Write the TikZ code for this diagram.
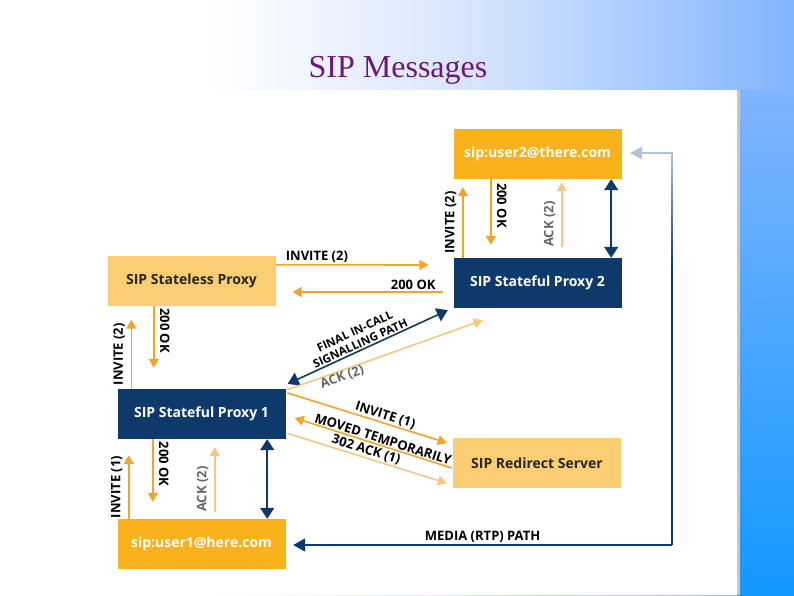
\documentclass[tikz,border=0pt]{standalone}
\usepackage{fontspec}
\setmainfont{Liberation Serif}
\newfontfamily\diagfont{Open Sans}
\usetikzlibrary{arrows.meta}
\usetikzlibrary{calc}

\definecolor{navy}{RGB}{14,58,107}
\definecolor{sipgold}{RGB}{250,178,28}
\definecolor{sippale}{RGB}{251,206,116}
\definecolor{sipline}{RGB}{244,164,40}
\definecolor{sipfaint}{RGB}{248,200,130}
\definecolor{sipmist}{RGB}{180,196,214}
\definecolor{titlepurple}{RGB}{112,22,122}
\definecolor{bgmid}{RGB}{214,228,252}
\definecolor{bgright}{RGB}{128,180,255}
\definecolor{stripbot}{RGB}{18,152,255}

\pgfdeclarehorizontalshading{bgshade}{100bp}{color(0bp)=(white); color(38bp)=(white); color(55bp)=(bgmid); color(75bp)=(bgright); color(100bp)=(bgright)}

\begin{document}
\begin{tikzpicture}[x=1pt,y=-1pt,
  box/.style={minimum width=168pt,minimum height=50pt,inner sep=0pt,font=\diagfont\bfseries\fontsize{14}{16}\selectfont},
  darkbox/.style={box,fill=navy,text=white},
  userbox/.style={box,fill=sipgold,text=white},
  lightbox/.style={box,fill=sippale,text=black!85},
  msg/.style={draw=sipline,line width=1.6pt,-{Triangle[length=9pt,width=10pt]}},
  reply/.style={draw=sipline,line width=1.6pt,{Triangle[length=9pt,width=10pt]}-},
  ackmsg/.style={msg,draw=sipfaint},
  path2/.style={draw=navy,line width=1.6pt,{Triangle[length=11pt,width=14pt]}-{Triangle[length=11pt,width=14pt]}},
  media/.style={draw=navy,line width=1.8pt,-{Triangle[length=12pt,width=13pt]}},
  lbl/.style={font=\diagfont\bfseries\fontsize{13}{14}\selectfont,inner sep=2pt,text=black},
  vlbl/.style={lbl,inner sep=5.5pt},
  acklbl/.style={vlbl,text=black!60}]

\shade[shading=bgshade] (0,0) rectangle (794,595);
\shade[top color=bgright,bottom color=stripbot] (737,90) rectangle (794,595);
\fill[black!22] (68,90) rectangle (740,595);
\fill[white] (68,90) rectangle (737,595);
\node[font=\fontsize{32}{38}\selectfont,text=titlepurple] (title) at (398,70) {SIP Messages};

\node[userbox] (u2) at (537.5,154) {sip:user2@there.com};
\node[darkbox] (p2) at (537.5,283) {SIP Stateful Proxy 2};
\node[lightbox] (sl) at (191.5,280.5) {SIP Stateless Proxy};
\node[darkbox] (p1) at (201.5,414) {SIP Stateful Proxy 1};
\node[userbox] (u1) at (201.5,544) {sip:user1@here.com};
\node[lightbox] (rd) at (537,463) {SIP Redirect Server};

\draw[msg] ($(p2.north west)+(9.5,0)$) -- node[vlbl,rotate=90,anchor=south]{INVITE (2)} ($(u2.south west)+(9.5,8)$);
\draw[msg] ($(u2.south west)+(37.5,0)$) -- node[vlbl,rotate=-90,anchor=south,pos=0.4]{200 OK} ($(p2.north west)+(37.5,-13)$);
\draw[ackmsg] ($(p2.north west)+(108.5,-11)$) -- node[acklbl,rotate=90,anchor=south,pos=0.35]{ACK (2)} ($(u2.south west)+(108.5,3)$);
\draw[path2] ($(u2.south east)+(-10.5,0)$) -- ($(p2.north east)+(-10.5,0)$);

\draw[msg] ($(sl.north east)+(0,9.5)$) -- node[lbl,above,pos=0.27]{INVITE (2)} ($(p2.west)+(-25,-18)$);
\draw[msg] ($(p2.west)+(-10,9)$) -- node[lbl,above,pos=0.2]{200 OK} ($(sl.east)+(17,11.5)$);

\draw[msg] ($(p1.north west)+(14,0)$) -- node[vlbl,rotate=90,anchor=south]{INVITE (2)} ($(sl.south west)+(24,14)$);
\draw[msg] ($(sl.south west)+(46.5,0)$) -- node[vlbl,rotate=-90,anchor=south,pos=0.4]{200 OK} ($(p1.north west)+(36.5,-21)$);

\draw[path2] ($(p1.north east)+(2,-5)$) -- node[lbl,sloped,above,align=center,pos=0.47,inner sep=1.5pt,font=\diagfont\bfseries\fontsize{11.5}{13}\selectfont]{FINAL IN-CALL\\SIGNALLING PATH} ($(p2.south west)+(-5.5,2)$);
\draw[ackmsg] ($(p1.north east)+(1.5,1)$) -- node[acklbl,sloped,below,pos=0.27,inner sep=0pt]{ACK (2)} ($(p2.south west)+(29.5,12)$);

\draw[msg] ($(p1.north east)+(1.5,4)$) -- node[lbl,sloped,above,pos=0.6,inner sep=1pt]{INVITE (1)} ($(rd.north west)+(-6,5)$);
\draw[reply] ($(p1.east)+(9,4)$) -- node[lbl,sloped,above,pos=0.55,inner sep=1pt]{MOVED TEMPORARILY} ($(rd.west)+(-1,5)$);
\draw[ackmsg] ($(p1.south east)+(1.5,-6)$) -- node[lbl,sloped,above,pos=0.48,inner sep=1pt]{302 ACK (1)} ($(rd.south west)+(-6,-5)$);

\draw[msg] ($(u1.north west)+(11.5,0)$) -- node[vlbl,rotate=90,anchor=south]{INVITE (1)} ($(p1.south west)+(11.5,16)$);
\draw[msg] ($(p1.south west)+(35.5,0)$) -- node[vlbl,rotate=-90,anchor=south,pos=0.4]{200 OK} ($(u1.north west)+(35.5,-17)$);
\draw[ackmsg] ($(u1.north west)+(97.5,-7)$) -- node[acklbl,rotate=90,anchor=south,pos=0.35]{ACK (2)} ($(p1.south west)+(97.5,8)$);
\draw[path2] ($(p1.south east)+(-18.5,0)$) -- ($(u1.north east)+(-18.5,0)$);

\coordinate (rtp) at (672,545);
\coordinate (rtptop) at (672,153);
\draw[media] (rtp) -- node[lbl,above]{MEDIA (RTP) PATH} ($(u1.east)+(7.5,1)$);
\draw[navy,line width=1.8pt] (rtp) -- ++(0,-281);
\shade[top color=sipmist,bottom color=navy] (671.1,152.1) rectangle (672.9,266);
\draw[media,draw=sipmist] (rtptop) -- ($(u2.east)+(8.5,-1)$);
\end{tikzpicture}
\end{document}
